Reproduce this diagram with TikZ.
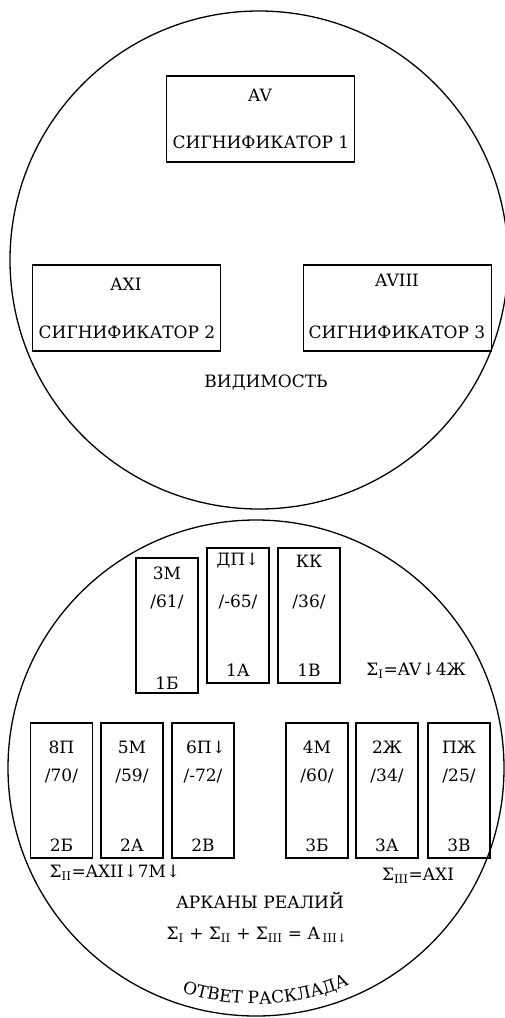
\documentclass[tikz,border=0pt]{standalone}
\usepackage{fontspec}
\setmainfont{DejaVu Serif}
\usetikzlibrary{positioning, decorations.text}

\begin{document}
\begin{tikzpicture}[x=1pt, y=-1pt,
	disc/.style={line width=1.3pt},
	sigbox/.style={draw, line width=1.2pt, minimum width=188pt, minimum height=86pt, inner sep=0pt},
	card/.style={draw, line width=1.2pt, minimum width=62pt, minimum height=135pt, inner sep=0pt},
	txt/.style={font=\fontsize{17}{20}\selectfont, inner sep=0pt}]
	\useasboundingbox (0,0) rectangle (505,1018);
	% upper disc: significators
	\draw[disc] (259,260) circle[radius=249];
	\node[sigbox] (sig1) at (260.5,119) {};
	\node[sigbox] (sig2) at (126.5,308) {};
	\node[sigbox] (sig3) at (397.5,308) {};
	\node[txt] (sig1a) at (260,95) {AV};
	\node[txt] (sig1b) at (261,142) {СИГНИФИКАТОР 1};
	\node[txt] (sig2a) at (126,284) {AXI};
	\node[txt] (sig2b) at (127,332) {СИГНИФИКАТОР 2};
	\node[txt] (sig3a) at (397,280) {AVIII};
	\node[txt] (sig3b) at (397,332) {СИГНИФИКАТОР 3};
	\node[txt] (vid) at (266,383) {ВИДИМОСТЬ};
	% lower disc: arcana
	\draw[disc] (256,768) circle[radius=248];
	\node[card] (c1b) at (167,625.5) {};
	\node[card] (c1a) at (238,615.5) {};
	\node[card] (c1v) at (309,615.5) {};
	\node[txt] at (167,573) (c1b-t) {3М};
	\node[txt] at (167,602) (c1b-v) {/61/};
	\node[txt] at (167,683) (c1b-b) {1Б};
	\node[txt] at (238,561) (c1a-t) {ДП↓};
	\node[txt] at (238,602) (c1a-v) {/-65/};
	\node[txt] at (238,670) (c1a-b) {1А};
	\node[txt] at (309,561) (c1v-t) {КК};
	\node[txt] at (309,602) (c1v-v) {/36/};
	\node[txt] at (309,670) (c1v-b) {1В};
	\node[card] (c2b) at (61.5,790.5) {};
	\node[card] (c2a) at (132,790.5) {};
	\node[card] (c2v) at (203,790.5) {};
	\node[card] (c3b) at (317,790.5) {};
	\node[card] (c3a) at (387,790.5) {};
	\node[card] (c3v) at (459,790.5) {};
	\node[txt] at (61.5,747) (c2b-t) {8П};
	\node[txt] at (61.5,776) (c2b-v) {/70/};
	\node[txt] at (61.5,845) (c2b-b) {2Б};
	\node[txt] at (132,747) (c2a-t) {5М};
	\node[txt] at (132,776) (c2a-v) {/59/};
	\node[txt] at (132,845) (c2a-b) {2А};
	\node[txt] at (206,747) (c2v-t) {6П↓};
	\node[txt] at (203,776) (c2v-v) {/-72/};
	\node[txt] at (203,845) (c2v-b) {2В};
	\node[txt] at (317,747) (c3b-t) {4М};
	\node[txt] at (317,776) (c3b-v) {/60/};
	\node[txt] at (317,845) (c3b-b) {3Б};
	\node[txt] at (387,747) (c3a-t) {2Ж};
	\node[txt] at (387,776) (c3a-v) {/34/};
	\node[txt] at (387,845) (c3a-b) {3А};
	\node[txt] at (459,747) (c3v-t) {ПЖ};
	\node[txt] at (459,776) (c3v-v) {/25/};
	\node[txt] at (459,845) (c3v-b) {3В};
	% sums
	\node[txt] (sum1) at (416,671) {Σ\textsubscript{I}=AV↓4Ж};
	\node[txt] (sum2) at (115,873) {Σ\textsubscript{II}=AXII↓7М↓};
	\node[txt] (sum3) at (418,876) {Σ\textsubscript{III}=AXI};
	\node[txt] (real) at (260,900) {АРКАНЫ РЕАЛИЙ};
	\node[txt] (total) at (257,935) {Σ\textsubscript{I} + Σ\textsubscript{II} + Σ\textsubscript{III} = A\,\textsubscript{III↓}};
	\path[decorate, decoration={text along path, text align=center,
		text format delimiters={|}{|},
		text={|\fontsize{17}{20}\selectfont|ОТВЕТ РАСКЛАДА}}]
		(256,768) ++(114:236) arc[start angle=114, end angle=61, radius=236];
\end{tikzpicture}
\end{document}
